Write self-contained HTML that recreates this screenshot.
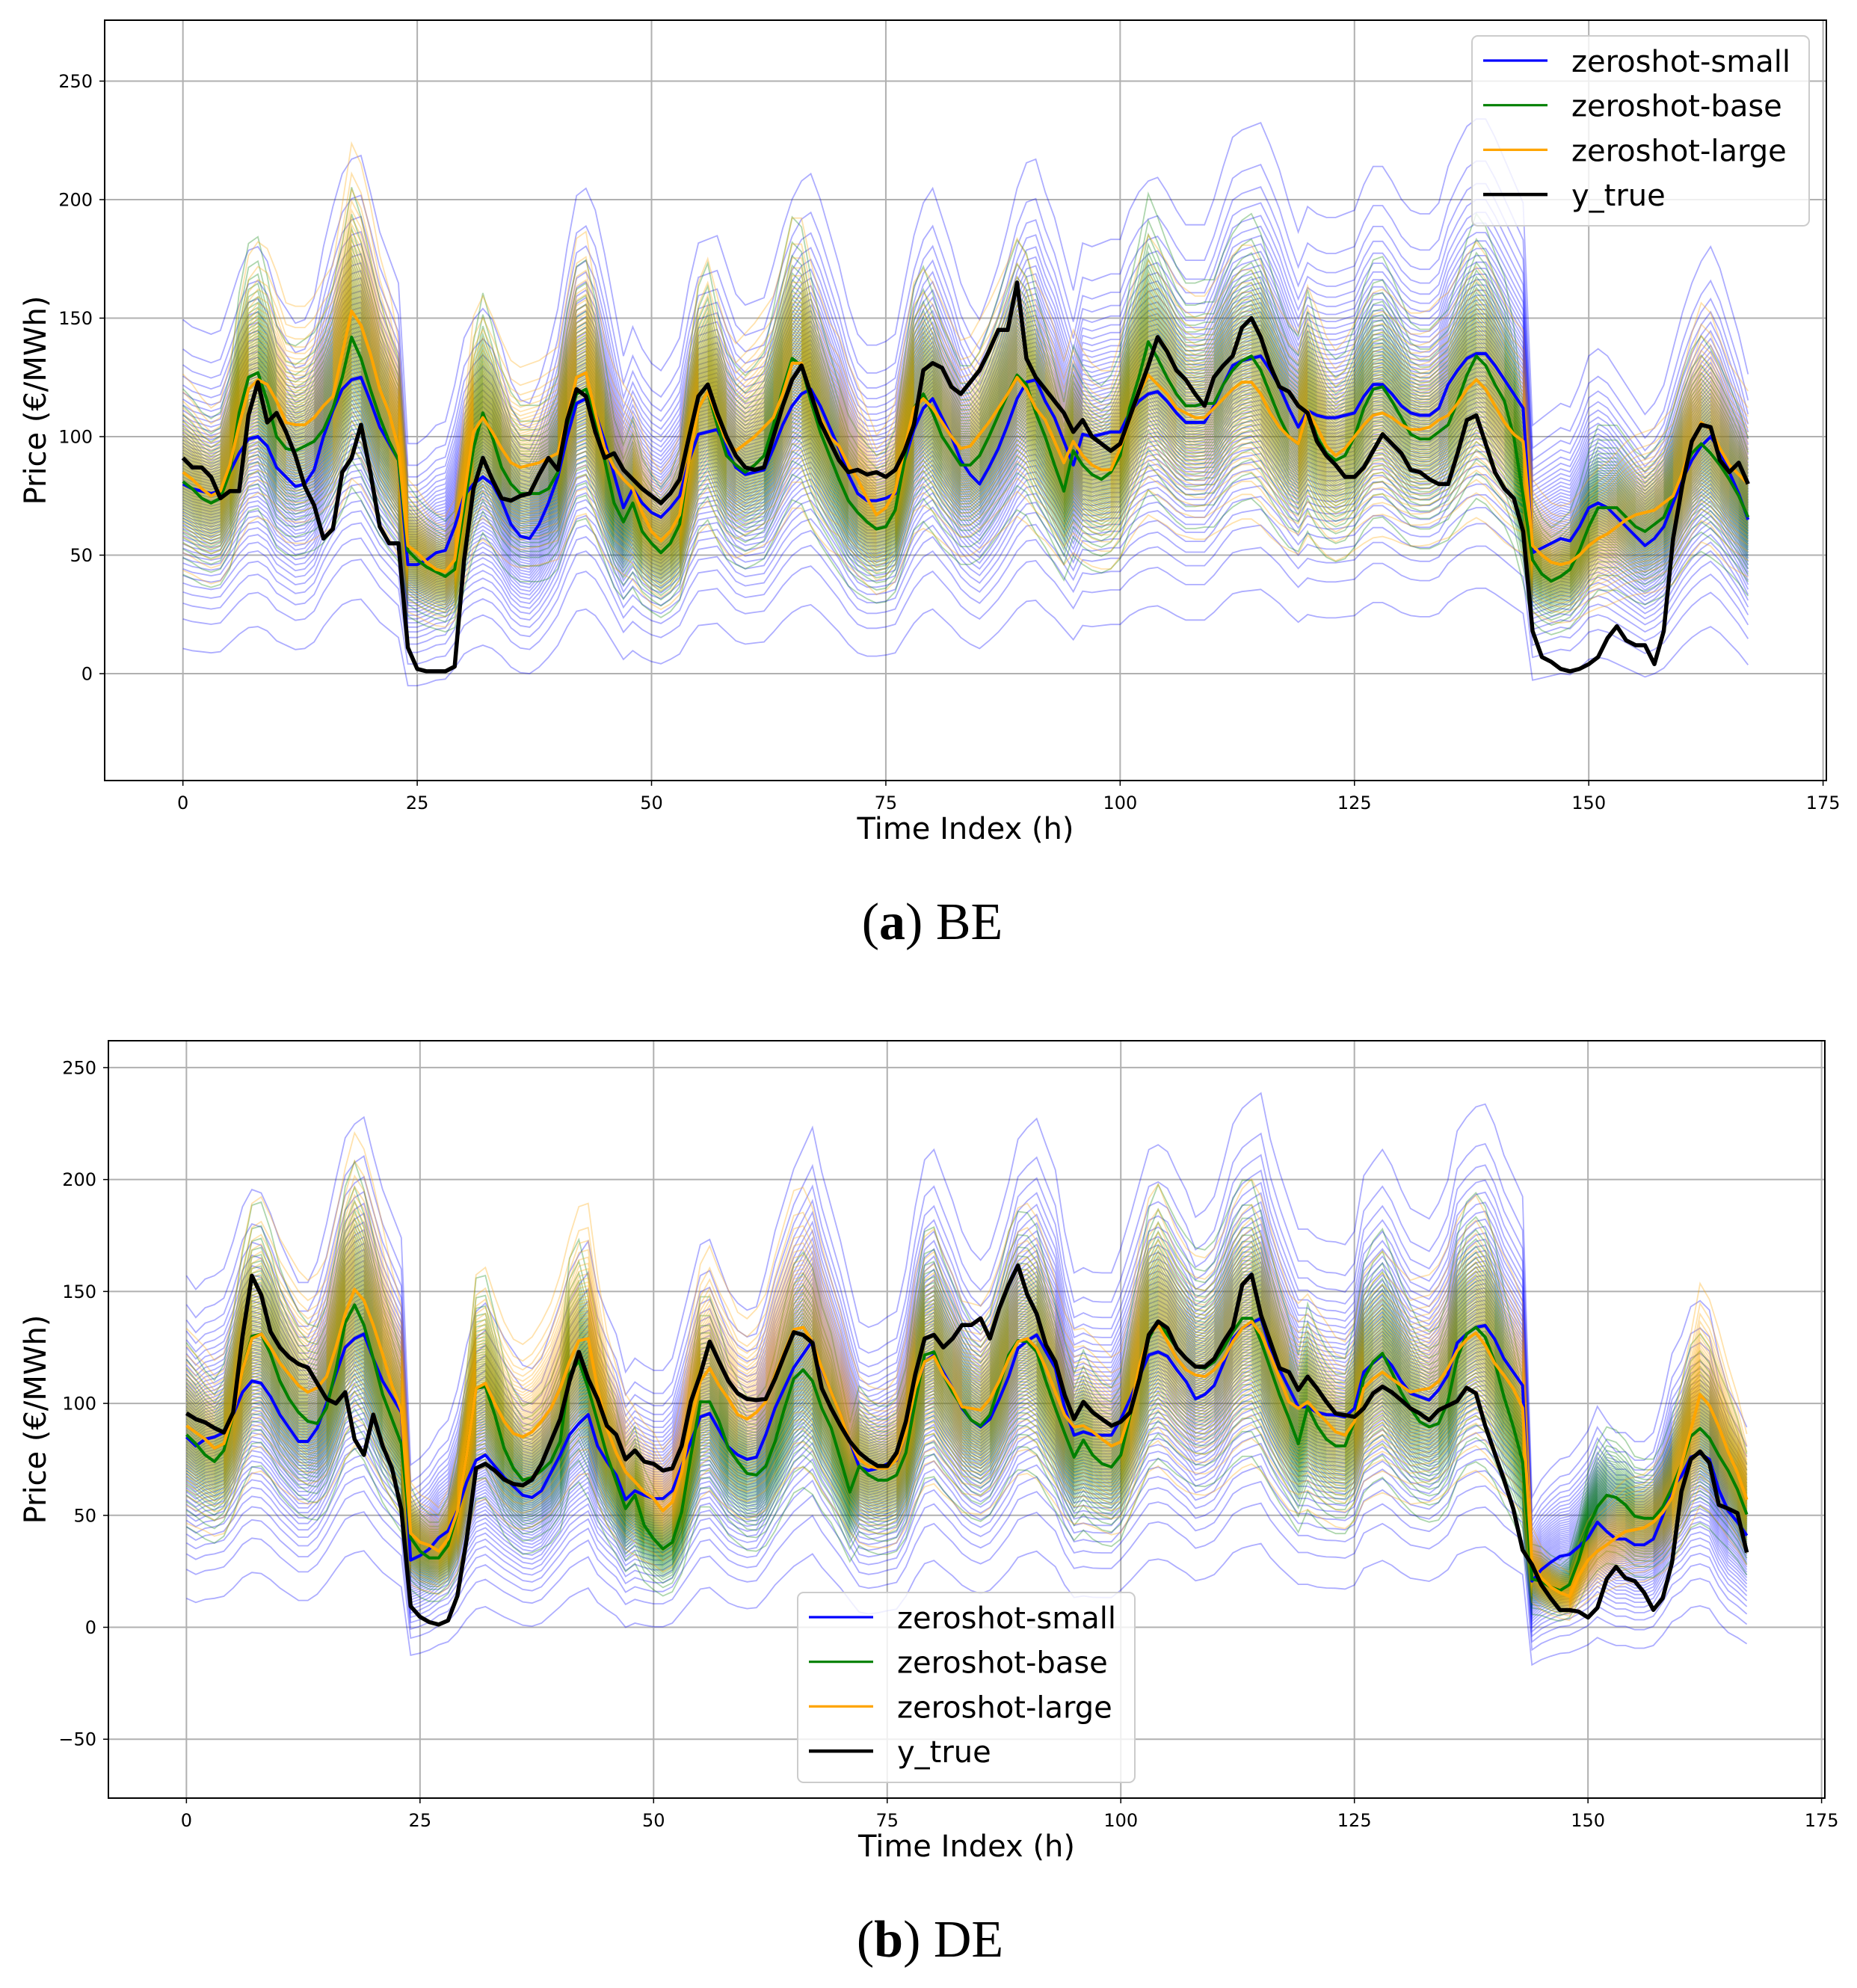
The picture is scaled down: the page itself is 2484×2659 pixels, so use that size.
<!DOCTYPE html>
<html><head><meta charset="utf-8"><title>Zero-shot price forecasts BE / DE</title>
<style>
html,body{margin:0;padding:0;background:#fff;}
svg{display:block;}
text{font-family:"DejaVu Sans","Liberation Sans",sans-serif;}
.cap{font-family:"Liberation Serif","DejaVu Serif",serif;}
</style></head>
<body>
<svg id="chart" xmlns="http://www.w3.org/2000/svg" width="2484" height="2659" viewBox="0 0 2484 2659">
<rect x="0" y="0" width="2484" height="2659" fill="#ffffff"/>
<g id="panel-be"></g>
<g id="panel-de"></g>
<text class="cap" x="1247" y="1256" text-anchor="middle" font-size="70">(<tspan font-weight="bold">a</tspan>) BE</text>
<text class="cap" x="1244" y="2617" text-anchor="middle" font-size="70">(<tspan font-weight="bold">b</tspan>) DE</text>
</svg>
<script>
const xTicks = [0, 25, 50, 75, 100, 125, 150, 175];
const yTicksBE = [0, 50, 100, 150, 200, 250];
const yTicksDE = [-50, 0, 50, 100, 150, 200, 250];
const seriesNames = ["zeroshot-small", "zeroshot-base", "zeroshot-large", "y_true"];

const beSmall = [80,78,77,76,77,85,93,99,100,96,87,83,79,80,86,100,111,120,124,125,115,104,97,90,46,46,48,51,52,62,75,80,83,80,73,63,58,57,63,72,83,100,114,116,110,98,84,70,78,72,68,66,70,75,90,101,102,103,95,87,84,85,86,95,105,113,118,120,113,104,95,84,76,73,73,74,76,90,103,112,116,108,100,90,84,80,87,95,105,116,123,124,115,108,98,88,101,100,101,102,102,110,115,118,119,115,110,106,106,106,113,122,130,132,133,134,128,121,112,104,111,109,108,108,109,110,117,122,122,118,113,110,109,109,112,122,128,133,135,135,130,124,118,112,51,53,55,57,56,62,70,72,70,66,62,58,54,57,62,72,82,90,96,100,94,85,76,65];
const beBase = [81,78,74,72,74,85,110,125,127,115,100,95,94,96,98,103,112,125,142,133,120,108,98,90,52,48,45,43,41,44,70,95,110,100,87,80,76,76,76,78,85,105,118,120,108,90,72,64,72,60,55,51,55,63,90,112,119,105,92,88,85,88,92,105,120,133,130,115,102,92,82,73,68,64,61,62,69,90,112,118,110,100,94,88,88,92,100,109,118,126,122,110,100,88,77,94,88,84,82,85,92,112,125,140,133,125,118,113,113,114,114,122,128,132,134,128,118,108,100,97,111,100,93,90,92,100,112,120,121,115,108,101,99,99,102,105,115,126,134,130,122,115,100,75,48,42,39,41,44,52,62,70,70,70,66,62,60,63,66,75,85,93,97,93,88,82,75,66];
const beLarge = [85,82,78,75,77,88,105,120,124,122,115,106,105,105,108,113,117,135,153,147,135,120,110,95,54,51,47,44,43,48,75,102,108,102,95,89,87,88,89,91,93,108,125,127,110,95,87,82,78,68,60,56,60,67,90,112,119,108,98,94,97,100,104,108,118,131,131,118,108,100,96,88,82,74,67,70,77,95,112,116,112,106,100,95,96,101,106,112,118,125,120,112,107,98,89,98,92,88,86,86,95,107,118,126,122,118,112,110,108,108,112,116,120,123,123,118,110,104,100,97,111,104,96,92,95,100,105,109,110,108,105,103,103,104,107,109,114,120,124,120,113,106,101,98,54,50,47,46,47,50,54,57,59,62,65,67,68,69,72,75,85,97,106,103,95,88,84,80];
const beTrue = [91,87,87,83,74,77,77,109,123,106,110,102,92,79,71,57,61,85,91,105,85,62,55,55,11,2,1,1,1,3,48,78,91,82,74,73,75,76,84,91,86,107,120,117,102,91,93,86,82,78,75,72,76,82,100,117,122,110,100,92,87,86,87,100,113,124,130,118,106,98,90,85,86,84,85,83,86,94,105,128,131,129,121,118,123,128,136,145,145,165,133,125,120,115,110,102,107,100,97,94,97,108,119,130,142,136,128,124,118,113,125,130,134,146,150,142,130,121,119,113,110,98,92,88,83,83,87,94,101,97,93,86,85,82,80,80,93,107,109,97,85,78,74,60,18,7,5,2,1,2,4,7,15,20,14,12,12,4,18,57,80,98,105,104,90,85,89,80];

const deSmall = [85,81,84,85,87,95,105,110,109,103,95,89,83,83,89,100,113,125,129,131,120,110,103,96,30,32,35,40,43,52,65,74.6,77,72,67,63,59,58,61,69,77,86,91,95,81,74,68,57,61,59,57.5,57.5,61,72,83,94,95.5,88,80.6,77,75,76,86,98,107,116,122,128,115,105,95,83,71.6,70,71,73,74.6,87,105,118.6,121.6,114,106.7,97.8,92.5,89.5,93,102,112,124.6,128,130.6,123,115.7,97.8,85.8,87.3,86,85.8,85.8,93,102,112,121.6,123,121,115,109.7,102,104,108,118,129,133.6,136,138,124.6,115,106.7,98.5,98.5,96,95,94.8,94,97.8,114,118,121.6,117,110,104.5,103,101.5,106,112.7,127,131,134,134.8,128.8,120,114,108,20.6,25.7,29,31.7,32.5,36,40,47,42.8,39.4,39.4,36.8,36.8,39.4,49.6,62.4,67.5,76,77.7,75,61.5,52,47,41];
const deBase = [86,82,77,74,79,95,115,130,131,122,110,102,96,92,91,98,115,136,144,135,120,104,93,82,40,34,31,31,36.6,51,77,106.7,107.5,95,80,71,65.7,67,70,74,83,113,119,106.7,92,77,65,53,59,45.5,39.5,35,38,51.5,77,100.7,100.7,92,80,74,68.7,68,72,83,97.8,111,115,110,97.8,89,75,60.4,72,68,65.7,65.7,68,78,100.7,121.6,123,112.7,105,98.5,92.5,90,95,108,121.6,128,127.6,123,109.7,97.8,86.6,76,83.6,76.9,73,71.6,76.9,94.8,111,129,136.6,130.6,124.6,120,116.4,115.7,118.6,124.6,132,138,138,127.6,115.7,103.7,93.3,82,98.5,90,84,81,81,91.8,111,118.6,122.4,114,105,97.8,91.8,89.5,91,100.7,120,131,134,129.6,118.6,103,89.6,74,21.5,20.6,18,16.4,19,30,44.5,53.8,59,58,54.7,49.6,48.7,48.7,53.8,62.4,72.6,85.3,88.8,84.5,76.8,70,61.5,50.4];
const deLarge = [90,87,84,80,82,95,115,129,131,125,118,113,108,105,107,112,125,140,151,146,135,122,108,97,42,38,36.6,34,39.5,51.5,77,106.7,109,100,92,86.6,85,87.3,92,97.8,106.7,118.6,128,129,106.7,88.8,78,69.4,65,60.4,57.5,52,56,69.4,92,110,115.7,108,102,95,93,96,100.7,112.7,123,133,134,127.6,115.7,105,95,83,75,72,71,71,75,87,106.7,118.6,121,112.7,106.7,98.5,97.8,97,102,110,120,127.6,129,124.6,115.7,105,94.8,89.5,90,87.3,84,81,82.8,96,117,130.6,135,127.6,120,115,112.7,112,115,120,127.6,133.6,136.6,131,121.6,111,100.7,97.8,100.7,96,91.8,87.3,85.8,91.8,106.7,111,114,111,108,105,106,106.7,109.7,115.7,123.5,128.5,131.5,126,118,112.6,106.6,98,28,22,18,15.5,13.8,23,30,34,36.8,40,42.8,43.6,44.5,47,51.3,58,72.6,88,104,99,89.6,78.5,69,57];
const deTrue = [95.6,93,91.5,89,87,96,130,157,148.5,132,125,120.6,117.6,116,109,102,100,105,84,77,95,81,71,52.7,9.4,4.7,2.3,1.2,3,14,39.5,71,73,70,66,64,63.4,66,73,83,93,110,123,111,102,90,86,75,79,74,73,70,71,81,101,113,127.6,118.6,110,104.5,102,101.5,102,111,121.6,131.8,130.6,127,106.7,97.8,90,83,78,74.6,72,72,78,92,113,129,130.6,125,129,135,135,138,129,142.5,153,161.6,148.5,140,126,118.6,103.7,93,100.7,96,93,90,91.8,96,111,130.6,136.6,133.6,124.6,120,116.4,116.4,120,127.6,134,153,157.5,139.5,127.6,115.7,114,106,112,106.7,100.7,95.5,94.8,94,97.8,104.5,107.5,105,101.5,97.8,95.5,92.5,97,99,101,107,104.5,90,78,66,53,34.5,28,19,13,7.7,7.7,7,4.4,8.7,21.5,27,22,20.6,15.5,7.8,13,29,60.6,75,78.5,73.4,54.7,53,51,33.4];

const SVGNS = "http://www.w3.org/2000/svg";
function mk(tag, attrs, parent) {
  const e = document.createElementNS(SVGNS, tag);
  for (const k in attrs) e.setAttribute(k, attrs[k]);
  if (parent) parent.appendChild(e);
  return e;
}
function zq(p) { return 4.91 * (Math.pow(p, 0.14) - Math.pow(1 - p, 0.14)); }
const NENS = 60;
const colors = ["#0000ff", "#008000", "#ffa500", "#000000"];
const spreadA = [0.45, 0.33, 0.36];
const spreadB = [22, 6, 4];

function drawPanel(g, cfg) {
  const L = cfg.left, R = cfg.right, T = cfg.top, B = cfg.bottom;
  const sx = v => L + (v - cfg.xmin) / (cfg.xmax - cfg.xmin) * (R - L);
  const sy = v => T + (cfg.ymax - v) / (cfg.ymax - cfg.ymin) * (B - T);
  const clipId = "clip-" + cfg.key;
  const defs = mk("defs", {}, g);
  const cp = mk("clipPath", {id: clipId}, defs);
  mk("rect", {x: L, y: T, width: R - L, height: B - T}, cp);

  const grid = mk("g", {}, g);
  
  
  xTicks.forEach(t => {
    const x = sx(t);
    if (x < L || x > R) return;
    const ln = mk("line", {x1: x, x2: x, y1: T, y2: B, stroke: "#b0b0b0", "stroke-width": 2}, grid);
    
    
    const tk = mk("line", {x1: x, x2: x, y1: B, y2: B + 7, stroke: "#000", "stroke-width": 1.5}, g);
    
    
    const tx = mk("text", {x: x, y: B + 38, "text-anchor": "middle", "font-size": 24, fill: "#000"}, g);
    tx.textContent = String(t);
    
    
  });
  cfg.yticks.forEach(v => {
    const y = sy(v);
    const ln = mk("line", {x1: L, x2: R, y1: y, y2: y, stroke: "#b0b0b0", "stroke-width": 2}, grid);
    
    
    const tk = mk("line", {x1: L - 7, x2: L, y1: y, y2: y, stroke: "#000", "stroke-width": 1.5}, g);
    
    
    const tx = mk("text", {x: L - 16, y: y + 8.5, "text-anchor": "end", "font-size": 24, fill: "#000"}, g);
    tx.textContent = v < 0 ? "\u2212" + Math.abs(v) : String(v);
    
    
  });

  const plot = mk("g", {"clip-path": "url(#" + clipId + ")"}, g);
  
  
  const means = [cfg.small, cfg.base, cfg.large];
  const ptsOf = (arr, f) => arr.map((v, i) => sx(i).toFixed(1) + "," + sy(f(v, i)).toFixed(1)).join(" ");
  means.forEach((m, si) => {
    const eg = mk("g", {stroke: colors[si], "stroke-opacity": 0.32, fill: "none", "stroke-width": 1.8}, plot);
    
    
    for (let k = 0; k < NENS; k++) {
      const z = zq((k + 0.5) / NENS) / 2;
      const pl = mk("polyline", {points: ptsOf(m, v => v + z * (spreadA[si] * Math.max(v, 0) + spreadB[si]))}, eg);
      
      
    }
  });
  [cfg.small, cfg.base, cfg.large, cfg.truth].forEach((m, si) => {
    const pl = mk("polyline", {points: ptsOf(m, v => v), fill: "none", stroke: colors[si],
      "stroke-width": si === 3 ? 5.5 : 4, "stroke-linejoin": "round"}, plot);
    
    
  });

  const frame = mk("rect", {x: L, y: T, width: R - L, height: B - T, fill: "none", stroke: "#000", "stroke-width": 2}, g);
  
  

  const xl = mk("text", {x: (L + R) / 2, y: B + 78, "text-anchor": "middle", "font-size": 40}, g);
  xl.textContent = "Time Index (h)";
  
  
  const cy = (T + B) / 2;
  const yl = mk("text", {x: 48, y: cy, "text-anchor": "middle", "dominant-baseline": "central", "font-size": 40,
    transform: "rotate(-90 48 " + cy + ")"}, g);
  yl.textContent = "Price (\u20AC/MWh)";
  
  

  const lg = mk("g", {}, g);
  
  
  const box = mk("rect", {x: cfg.lgx, y: cfg.lgy, width: 451, height: 254, rx: 8, fill: "#ffffff", "fill-opacity": 0.8, stroke: "#cccccc", "stroke-width": 2}, lg);
  
  
  seriesNames.forEach((n, i) => {
    const ly = cfg.lgy + 33 + i * 59.7;
    const sw = mk("line", {x1: cfg.lgx + 15, x2: cfg.lgx + 101, y1: ly, y2: ly, stroke: colors[i], "stroke-width": i === 3 ? 4.5 : 3.2}, lg);
    
    
    const t = mk("text", {x: cfg.lgx + 133, y: ly + 15, "font-size": 40}, lg);
    t.textContent = n;
    
    
  });
}

drawPanel(document.getElementById("panel-be"), {key: "be", left: 140, right: 2443, top: 27, bottom: 1044,
  xmin: -8.35, xmax: 175.35, ymin: -45.1, ymax: 275.7, yticks: yTicksBE,
  small: beSmall, base: beBase, large: beLarge, truth: beTrue, lgx: 1969, lgy: 48});
drawPanel(document.getElementById("panel-de"), {key: "de", left: 145, right: 2441, top: 1392, bottom: 2405,
  xmin: -8.35, xmax: 175.35, ymin: -76.3, ymax: 262, yticks: yTicksDE,
  small: deSmall, base: deBase, large: deLarge, truth: deTrue, lgx: 1067, lgy: 2130});
</script>
</body></html>
